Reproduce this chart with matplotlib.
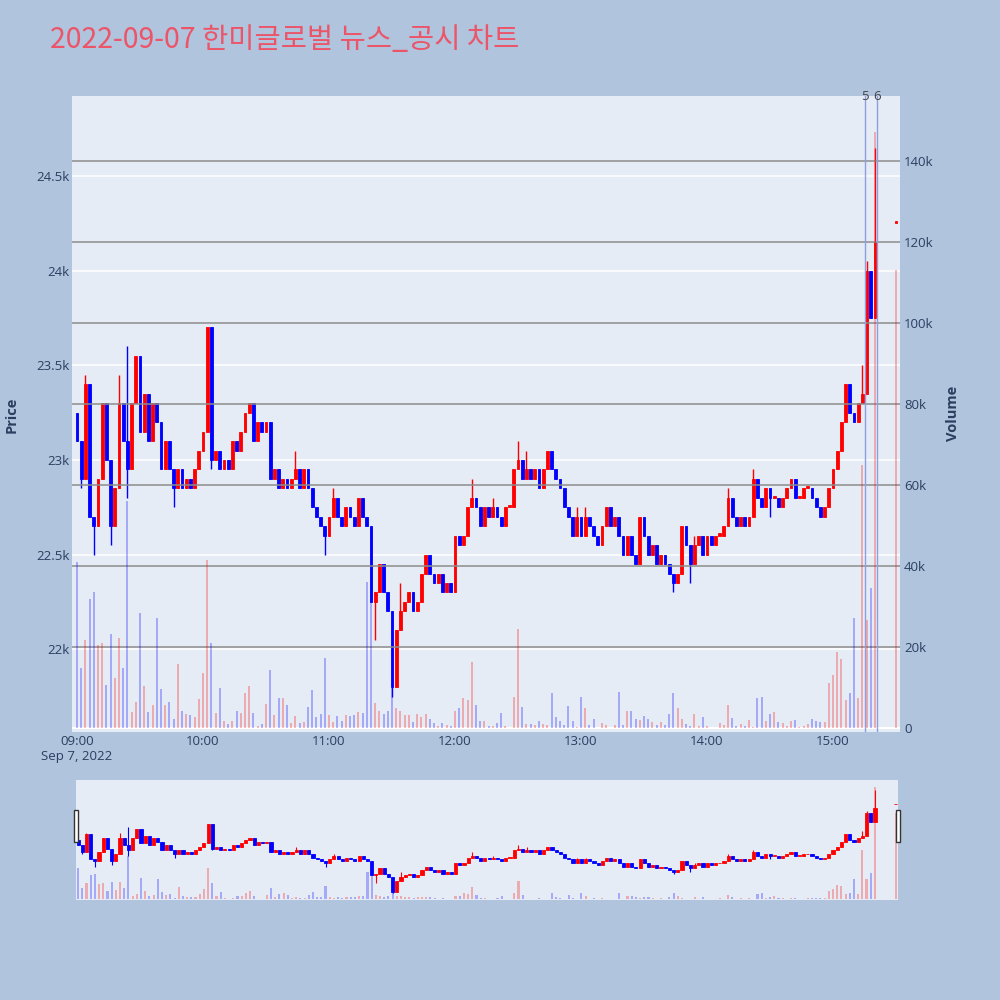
import matplotlib
matplotlib.use("Agg")
import matplotlib.pyplot as plt
import matplotlib.patches as mpatches
import matplotlib.transforms as mtransforms

plt.rcParams['font.family'] = ['Open Sans', 'DejaVu Sans']

title = "2022-09-07 한미글로벌 뉴스_공시 차트"

# 2-minute bars, minutes after 09:00 (last one is the 15:30 closing auction)
minutes = list(range(0, 382, 2)) + [390]
first_open = 23250
closes = [
    23100, 22900, 23400, 22700, 22650, 22900, 23300, 23000, 22650, 22850,  # 09:00
    23300, 23100, 22950, 23300, 23550, 23150, 23350, 23100, 23300, 23200,  # 09:20
    22950, 23100, 22950, 22850, 22950, 22850, 22900, 22850, 22950, 23050,  # 09:40
    23150, 23700, 23000, 23050, 22950, 23000, 22950, 23100, 23050, 23150,  # 10:00
    23250, 23300, 23100, 23200, 23150, 23200, 22900, 22950, 22850, 22900,  # 10:20
    22850, 22900, 22950, 22850, 22950, 22850, 22750, 22700, 22650, 22600,  # 10:40
    22700, 22800, 22700, 22650, 22750, 22700, 22650, 22800, 22700, 22650,  # 11:00
    22250, 22300, 22450, 22300, 22200, 21800, 22100, 22200, 22250, 22300,  # 11:20
    22200, 22250, 22400, 22500, 22400, 22350, 22400, 22300, 22350, 22300,  # 11:40
    22600, 22550, 22600, 22750, 22800, 22750, 22650, 22750, 22700, 22750,  # 12:00
    22700, 22650, 22750, 22750, 22950, 23000, 22900, 22950, 22900, 22950,  # 12:20
    22850, 22950, 23050, 22950, 22900, 22850, 22750, 22700, 22600, 22700,  # 12:40
    22600, 22700, 22650, 22600, 22550, 22650, 22750, 22650, 22700, 22600,  # 13:00
    22500, 22600, 22500, 22450, 22700, 22600, 22500, 22550, 22450, 22500,  # 13:20
    22450, 22400, 22350, 22400, 22650, 22550, 22450, 22550, 22600, 22500,  # 13:40
    22600, 22550, 22600, 22600, 22650, 22800, 22700, 22650, 22700, 22650,  # 14:00
    22700, 22900, 22800, 22750, 22850, 22800, 22800, 22750, 22800, 22850,  # 14:20
    22900, 22800, 22800, 22850, 22850, 22800, 22750, 22700, 22750, 22850,  # 14:40
    22950, 23050, 23200, 23400, 23250, 23200, 23300, 23350, 24000, 23750,  # 15:00
    24150,                                                                 # 15:20
    24250,                                                                 # 15:30
]
# wicks beyond the bodies (bar index -> price)
wick_highs = {0: 23250, 2: 23450, 10: 23450, 12: 23600, 52: 23050, 61: 22850,
              77: 22350, 94: 22900, 99: 22800, 105: 23100, 107: 23050,
              119: 22750, 121: 22750, 147: 22600, 155: 22850, 161: 22950,
              187: 23500, 188: 24050, 190: 24650}
wick_lows = {1: 22850, 4: 22500, 8: 22550, 12: 22800, 23: 22750, 32: 22950,
             59: 22500, 71: 22050, 75: 21750, 142: 22300, 146: 22350, 165: 22700}
# volume per bar, thousand shares
volumes_k = [
    41, 15, 21.7, 32, 33.6, 20.5, 21, 10.6, 23.2, 12.5,
    22.4, 15, 56, 4, 6.4, 28.4, 10.4, 4.1, 5.7, 27.2,
    9.6, 5.7, 6.6, 2.3, 15.8, 4.4, 3.6, 3.4, 2.9, 7.3,
    13.6, 41.5, 21.1, 3.8, 9.9, 1.7, 1.0, 1.7, 4.3, 3.8,
    8.7, 10.4, 3.8, 0.7, 1.0, 5.9, 14.5, 3.2, 7.4, 7.6,
    5.7, 1.2, 3.0, 1.2, 1.6, 5.3, 9.4, 2.8, 3.6, 17.3,
    3.4, 1.6, 3.0, 1.8, 3.3, 3.0, 3.3, 4.0, 3.8, 36,
    33, 6.2, 4.4, 3.6, 4.4, 9.9, 4.9, 4.4, 3.3, 3.3,
    1.6, 3.6, 2.8, 3.5, 2.4, 1.2, 0.5, 1.2, 0.8, 0.6,
    4.4, 4.9, 7.6, 7.0, 16.4, 5.7, 1.8, 1.9, 0.5, 0.5,
    1.2, 3.8, 0.5, 0.1, 7.8, 24.4, 5.3, 1.0, 1.0, 0.8,
    1.7, 1.0, 0.8, 8.8, 2.7, 1.9, 0.8, 5.5, 1.7, 0.3,
    7.8, 4.9, 0.8, 2.2, 0.1, 1.2, 0.8, 0.1, 0.9, 8.9,
    0.8, 4.2, 4.4, 2.4, 2.1, 3.0, 2.4, 1.6, 0.8, 1.6,
    0.8, 3.5, 8.7, 4.9, 2.2, 1.0, 0.5, 3.6, 0.5, 2.8,
    0.5, 0.2, 0.2, 1.4, 0.9, 5.7, 2.6, 0.7, 1.1, 0.7,
    2.0, 0.3, 7.4, 7.8, 1.7, 3.6, 4.0, 1.6, 1.3, 0.6,
    1.7, 2.0, 0.3, 0.5, 1.1, 2.2, 1.7, 1.6, 1.6, 11.1,
    13.2, 18.8, 17.2, 6.9, 8.6, 27.2, 7.4, 65, 26.7, 34.6,
    147,
    113,
]
news_minutes = [375, 381]
news_labels = ['5', '6']

price_ticks = [22000, 22500, 23000, 23500, 24000, 24500]
price_ticklabels = ['22k', '22.5k', '23k', '23.5k', '24k', '24.5k']
vol_ticks = [0, 20000, 40000, 60000, 80000, 100000, 120000, 140000]
vol_ticklabels = ['0', '20k', '40k', '60k', '80k', '100k', '120k', '140k']
time_ticks = [0, 60, 120, 180, 240, 300, 360]
time_ticklabels = ['09:00\nSep 7, 2022', '10:00', '11:00', '12:00', '13:00', '14:00', '15:00']

UP = '#FF0000'
DOWN = '#0000FF'
FONT_C = '#2a3f5f'

opens = [first_open] + closes[:-1]
opens[-1] = closes[-1]  # closing auction: single price
highs = [max(o, c) for o, c in zip(opens, closes)]
lows = [min(o, c) for o, c in zip(opens, closes)]
for k, v in wick_highs.items():
    highs[k] = v
for k, v in wick_lows.items():
    lows[k] = v
is_up = [c >= o for o, c in zip(opens, closes)]
colors = [UP if u else DOWN for u in is_up]
vol_colors = [(1, 0, 0, 0.28) if u else (0, 0, 1, 0.28) for u in is_up]
volumes = [v * 1000 for v in volumes_k]

price_lim = (21563, 24923)
vol_lim = (-900, 156000)


def draw_candles(a, body_w, wick_lw):
    a.vlines(minutes, lows, highs, colors=colors, linewidth=wick_lw, zorder=2)
    bottoms = [min(o, c) for o, c in zip(opens, closes)]
    heights = [max(abs(c - o), 12) for o, c in zip(opens, closes)]
    a.bar(minutes, heights, bottom=bottoms, width=body_w, color=colors,
          edgecolor=colors, linewidth=0.6, zorder=3)


fig = plt.figure(figsize=(10, 10), dpi=100, facecolor='#B0C4DE')

# main chart
ax = fig.add_axes([0.072, 0.268, 0.828, 0.636])
ax.set_facecolor('#E5ECF6')
for s in ax.spines.values():
    s.set_visible(False)
ax.set_xlim(-2.4, 391.9)
ax.set_ylim(*price_lim)
ax.set_yticks(price_ticks)
ax.set_yticklabels(price_ticklabels)
ax.grid(axis='y', color='white', linewidth=1.1, zorder=0)
ax.set_axisbelow(True)
ax.set_xticks(time_ticks)
ax.set_xticklabels(time_ticklabels)
ax.tick_params(axis='both', length=0, labelsize=9.5, labelcolor=FONT_C)
ax.tick_params(axis='y', pad=2)
ax.tick_params(axis='x', pad=2)
draw_candles(ax, 1.3, 1.0)

ax2 = ax.twinx()
ax2.set_ylim(*vol_lim)
ax2.patch.set_visible(False)
for s in ax2.spines.values():
    s.set_visible(False)
ax2.set_yticks(vol_ticks)
ax2.set_yticklabels(vol_ticklabels)
ax2.tick_params(axis='y', length=0, labelsize=9.5, labelcolor=FONT_C, pad=3)
for t in vol_ticks[1:]:
    ax2.axhline(t, color='#8c8c8c', linewidth=1.1, zorder=1)
ax2.axhline(0, color='white', linewidth=1.5, zorder=1)
ax2.bar(minutes, volumes, width=1.0, color=vol_colors, linewidth=0, zorder=2)
for m, lab in zip(news_minutes, news_labels):
    ax2.axvline(m, color='#8e9fe0', linewidth=1.0, zorder=3)
    ax2.text(m, 1.0, lab, transform=mtransforms.blended_transform_factory(ax2.transData, ax2.transAxes),
             ha='center', va='center', fontsize=9.5, color='#444444', zorder=4)

fig.text(0.012, 0.585, 'Price', rotation=90, ha='center', va='center',
         fontsize=10.5, fontweight='bold', color=FONT_C)
fig.text(0.953, 0.587, 'Volume', rotation=90, ha='center', va='center',
         fontsize=10.5, fontweight='bold', color=FONT_C)
fig.text(0.05, 0.96, title, ha='left', va='center', fontsize=20.5, color='#EC5468',
         family=['Noto Sans CJK KR', 'DejaVu Sans'])

# range slider
axs = fig.add_axes([0.076, 0.1, 0.822, 0.12])
axs.set_facecolor('#E5ECF6')
for s in axs.spines.values():
    s.set_visible(False)
axs.set_xlim(-1, 391)
axs.set_ylim(*price_lim)
axs.set_xticks([])
axs.set_yticks([])
draw_candles(axs, 1.5, 0.8)
axs2 = axs.twinx()
axs2.patch.set_visible(False)
for s in axs2.spines.values():
    s.set_visible(False)
axs2.set_ylim(*vol_lim)
axs2.set_yticks([])
axs2.bar(minutes, volumes, width=1.0, color=vol_colors, linewidth=0)

for hx in (0.0735, 0.8955):
    fig.patches.append(mpatches.Rectangle((hx, 0.158), 0.0045, 0.032, transform=fig.transFigure,
                                          facecolor='white', edgecolor='#333333', linewidth=1))

fig.savefig('out.png', dpi=100, facecolor=fig.get_facecolor())
